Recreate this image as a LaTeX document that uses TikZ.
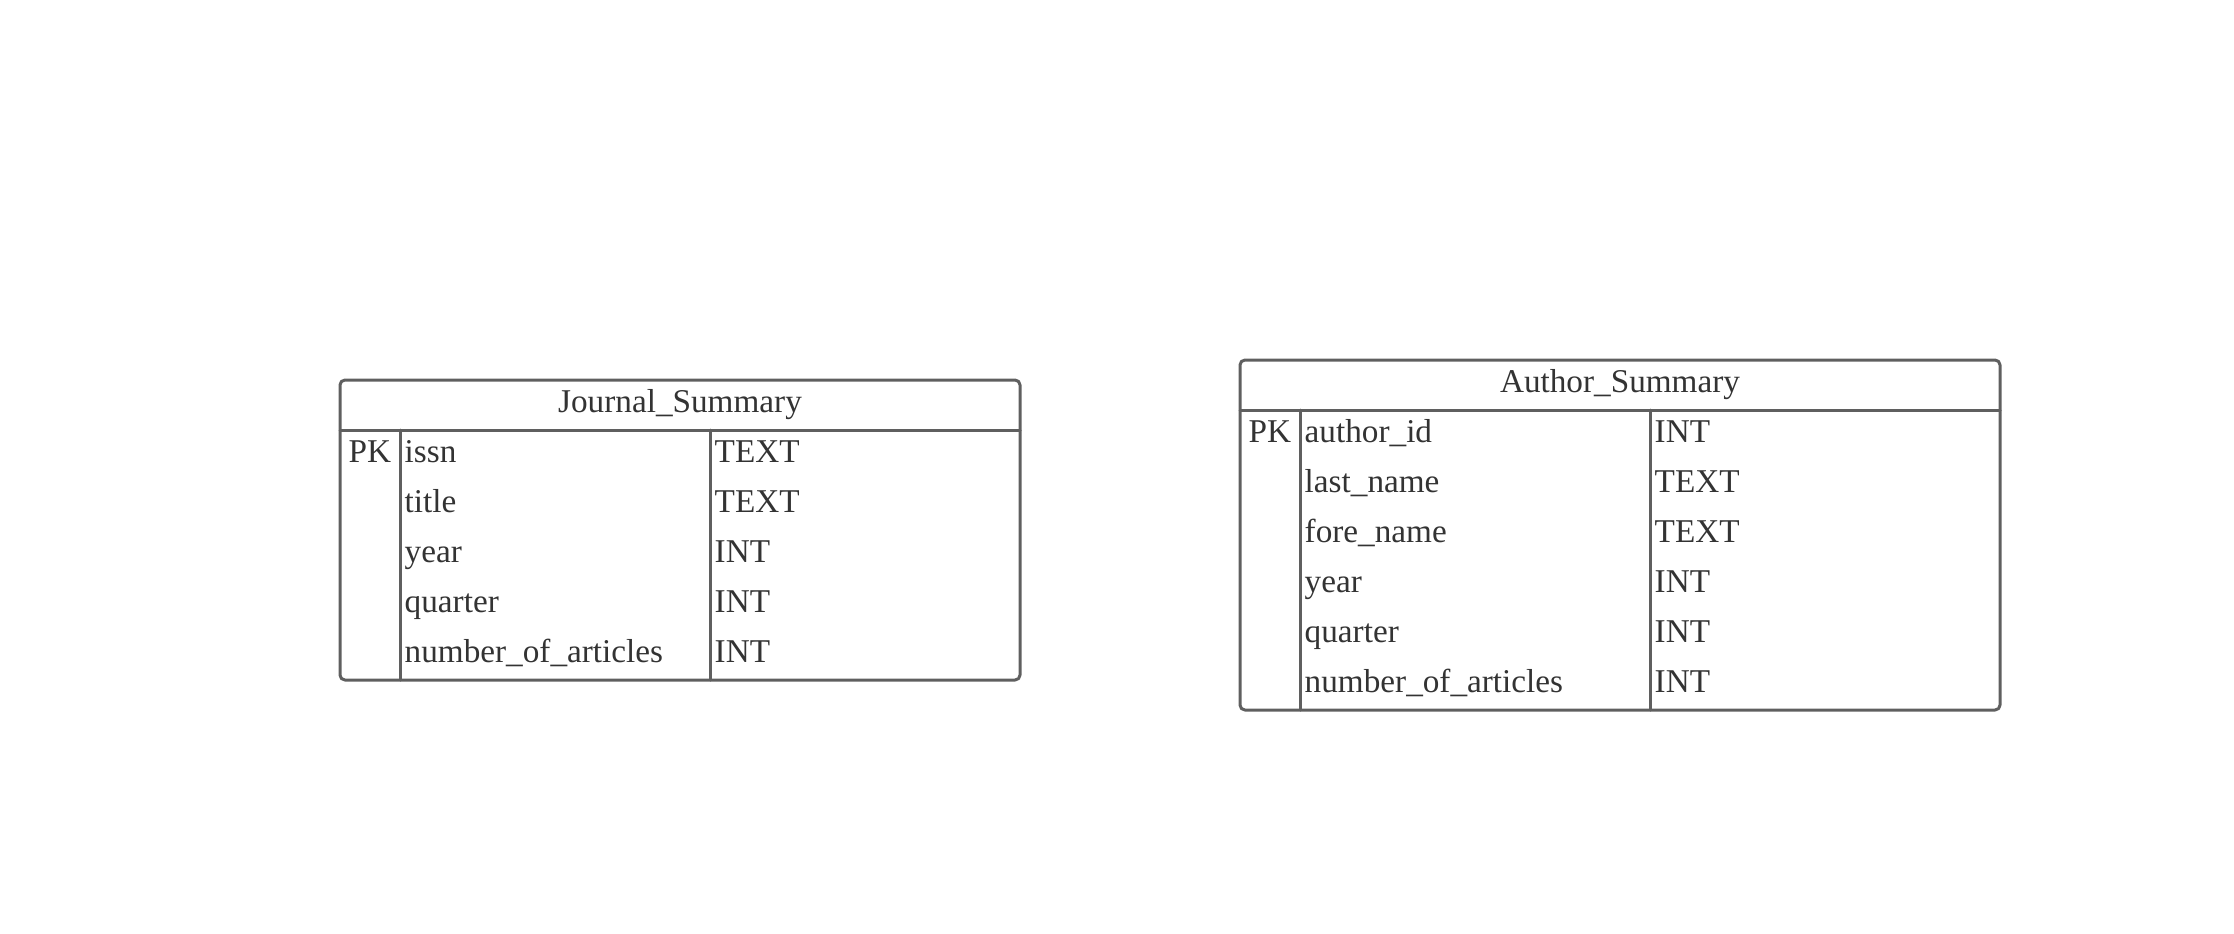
\documentclass[tikz,border=0pt]{standalone}
\usepackage{fontspec}
\setmainfont{Liberation Serif}
\definecolor{framegray}{HTML}{5F5F5F}
\definecolor{textgray}{HTML}{333333}
\tikzset{
  frame/.style={draw=framegray,line width=0.85pt},
  cell/.style={anchor=base west,inner sep=0pt,text=textgray,font=\fontsize{9.45}{11}\selectfont},
  tablehead/.style={anchor=base,inner sep=0pt,text=textgray,font=\fontsize{9.45}{11}\selectfont},
}
\begin{document}
\begin{tikzpicture}[x=0.01cm,y=-0.01cm,line cap=round,line join=round]
  \useasboundingbox (0,0) rectangle (2234,933);
  % Journal_Summary
  \draw[frame,rounded corners=1.4pt] (340,380) rectangle (1020,680);
  \draw[frame] (340,430) -- (1020,430);
  \draw[frame] (400,430) -- (400,680);
  \draw[frame] (710,430) -- (710,680);
  \node[tablehead] (jhead) at (680,412) {Journal\_Summary};
  \node[cell] (jpk) at (348,462) {PK};
  \node[cell] (jissn) at (404,462) {issn};
  \node[cell] (jtitle) at (404,512) {title};
  \node[cell] (jyear) at (404,562) {year};
  \node[cell] (jquarter) at (404,612) {quarter};
  \node[cell] (jnum) at (404,662) {number\_of\_articles};
  \node[cell] (jissnT) at (714,462) {TEXT};
  \node[cell] (jtitleT) at (714,512) {TEXT};
  \node[cell] (jyearT) at (714,562) {INT};
  \node[cell] (jquarterT) at (714,612) {INT};
  \node[cell] (jnumT) at (714,662) {INT};
  % Author_Summary
  \draw[frame,rounded corners=1.4pt] (1240,360) rectangle (2000,710);
  \draw[frame] (1240,410) -- (2000,410);
  \draw[frame] (1300,410) -- (1300,710);
  \draw[frame] (1650,410) -- (1650,710);
  \node[tablehead] (ahead) at (1620,392) {Author\_Summary};
  \node[cell] (apk) at (1248,442) {PK};
  \node[cell] (aid) at (1304,442) {author\_id};
  \node[cell] (alast) at (1304,492) {last\_name};
  \node[cell] (afore) at (1304,542) {fore\_name};
  \node[cell] (ayear) at (1304,592) {year};
  \node[cell] (aquarter) at (1304,642) {quarter};
  \node[cell] (anum) at (1304,692) {number\_of\_articles};
  \node[cell] (aidT) at (1654,442) {INT};
  \node[cell] (alastT) at (1654,492) {TEXT};
  \node[cell] (aforeT) at (1654,542) {TEXT};
  \node[cell] (ayearT) at (1654,592) {INT};
  \node[cell] (aquarterT) at (1654,642) {INT};
  \node[cell] (anumT) at (1654,692) {INT};
\end{tikzpicture}
\end{document}
